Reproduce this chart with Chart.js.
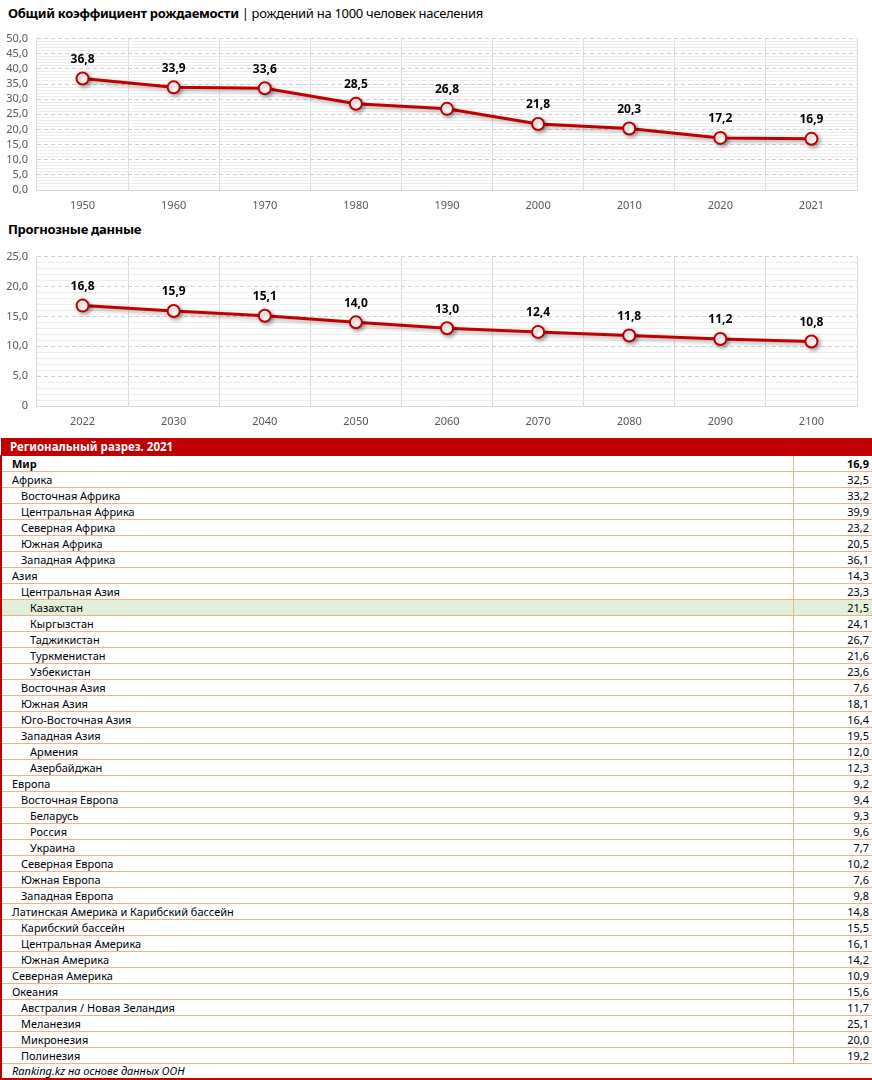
<!DOCTYPE html>
<html>
<head>
<meta charset="utf-8">
<script src="https://cdn.jsdelivr.net/npm/chart.js@4.4.0/dist/chart.umd.min.js"></script>
<style>
body{margin:0;width:872px;height:1080px;background:#fff;font-family:"Noto Sans",sans-serif;position:relative;overflow:hidden;color:#000}
.title{position:absolute;left:8px;font-size:13px;letter-spacing:-0.3px;white-space:nowrap}
.title b{font-weight:700}
.box{position:absolute;left:0;width:872px}
#tbl{position:absolute;left:0;top:438px;width:872px;border-collapse:collapse;font-size:11px;table-layout:fixed}
#tbl td{height:15px;padding:0;line-height:15px;border-bottom:1px solid #f4b183;white-space:nowrap}
#tbl td.v{text-align:right;padding-right:3px;border-left:1px solid #f4b183;border-right:2px solid #c00000}
#tbl td.n{border-left:2px solid #c00000}
#tbl tr.head td{background:#c00000;color:#fff;font-weight:700;height:17px;line-height:17px;border-bottom:1px solid #c00000;padding-left:9px;font-size:11.5px}
#tbl tr.kz td{background:#e2efda}
#tbl tr.foot td{font-style:italic;border:2px solid #c00000;border-top:1px solid #c00000;padding-left:10px;height:14px;line-height:14px}
</style>
</head>
<body>
<div class="title" style="top:4px"><b>Общий коэффициент рождаемости</b> | рождений на 1000 человек населения</div>
<div class="box" style="top:23px;height:193px"><canvas id="c1" width="872" height="193"></canvas></div>
<div class="title" style="top:220px"><b>Прогнозные данные</b></div>
<div class="box" style="top:241px;height:191px"><canvas id="c2" width="872" height="191"></canvas></div>
<table id="tbl"></table>
<script>
// исторические данные
const years1 = ['1950','1960','1970','1980','1990','2000','2010','2020','2021'];
const rate1 = [36.8, 33.9, 33.6, 28.5, 26.8, 21.8, 20.3, 17.2, 16.9];
// прогноз
const years2 = ['2022','2030','2040','2050','2060','2070','2080','2090','2100'];
const rate2 = [16.8, 15.9, 15.1, 14.0, 13.0, 12.4, 11.8, 11.2, 10.8];

// региональный разрез 2021
const regions = ['Мир','Африка','Восточная Африка','Центральная Африка','Северная Африка','Южная Африка','Западная Африка',
  'Азия','Центральная Азия','Казахстан','Кыргызстан','Таджикистан','Туркменистан','Узбекистан','Восточная Азия','Южная Азия',
  'Юго-Восточная Азия','Западная Азия','Армения','Азербайджан','Европа','Восточная Европа','Беларусь','Россия','Украина',
  'Северная Европа','Южная Европа','Западная Европа','Латинская Америка и Карибский бассейн','Карибский бассейн',
  'Центральная Америка','Южная Америка','Северная Америка','Океания','Австралия / Новая Зеландия','Меланезия','Микронезия','Полинезия'];
const regionValues = [16.9,32.5,33.2,39.9,23.2,20.5,36.1,14.3,23.3,21.5,24.1,26.7,21.6,23.6,7.6,18.1,16.4,19.5,12.0,12.3,
  9.2,9.4,9.3,9.6,7.7,10.2,7.6,9.8,14.8,15.5,16.1,14.2,10.9,15.6,11.7,25.1,20.0,19.2];
const regionLevel = [0,0,1,1,1,1,1,0,1,2,2,2,2,2,1,1,1,1,2,2,0,1,2,2,2,1,1,1,0,1,1,1,0,0,1,1,1,1];

const comma = v => v.toFixed(1).replace('.', ',');

// тень под линией как в excel
const shadowPlugin = {
  id: 'shadow',
  beforeDatasetsDraw(chart){
    const c = chart.ctx;
    c.save();
    c.shadowColor = 'rgba(0,0,0,0.35)';
    c.shadowBlur = 4;
    c.shadowOffsetX = 2;
    c.shadowOffsetY = 2;
  },
  afterDatasetsDraw(chart){
    chart.ctx.restore();
  }
};

const labelPlugin = {
  id: 'labels',
  afterDraw(chart){
    const c = chart.ctx;
    const meta = chart.getDatasetMeta(0);
    const data = chart.data.datasets[0].data;
    c.save();
    c.font = 'bold 12px "Noto Sans"';
    c.fillStyle = '#000';
    c.textAlign = 'center';
    c.textBaseline = 'middle';
    meta.data.forEach((p, i) => {
      c.fillText(comma(data[i]), p.x, p.y - 19);
    });
    c.restore();
  }
};

function makeChart(id, labels, values, max, zeroLabel){
  const ctx = document.getElementById(id).getContext('2d');
  return new Chart(ctx, {
    type: 'line',
    data: {
      labels: labels,
      datasets: [{
        data: values,
        borderColor: '#c00000',
        borderWidth: 3,
        pointRadius: 6,
        pointBorderWidth: 2,
        pointBackgroundColor: '#fff',
        pointBorderColor: '#c00000',
        tension: 0
      }]
    },
    options: {
      responsive: false,
      animation: false,
      layout: {padding: {top: 7, right: 15, left: 0, bottom: 0}},
      plugins: {legend: {display: false}, tooltip: {enabled: false}},
      scales: {
        x: {
          offset: true,
          grid: {offset: true, color: '#d9d9d9', drawTicks: false},
          border: {color: '#d9d9d9'},
          ticks: {color: '#595959', font: {size: 11, family: '"Noto Sans"'}, padding: 9},
          afterFit: s => { s.height = 26; }
        },
        yMinor: {
          position: 'left',
          min: 0, max: max,
          ticks: {display: false, stepSize: 1, autoSkip: false},
          grid: {drawTicks: false, color: c => (c.tick && c.tick.value % 5 === 0) ? 'rgba(0,0,0,0)' : '#ededed'},
          border: {display: false},
          afterFit: s => { s.width = 0; }
        },
        y: {
          position: 'left',
          min: 0, max: max,
          ticks: {
            stepSize: 5,
            autoSkip: false,
            color: '#595959',
            font: {size: 11, family: '"Noto Sans"'},
            padding: 9,
            callback: v => (v === 0 && zeroLabel) ? zeroLabel : comma(v)
          },
          grid: {drawTicks: false, color: '#cfcfcf'},
          border: {display: false, dash: [4, 3]},
          afterFit: s => { s.width = 37; }
        }
      }
    },
    plugins: [shadowPlugin, labelPlugin]
  });
}

makeChart('c1', years1, rate1, 50, null);
makeChart('c2', years2, rate2, 25, '0');

// таблица
const tbl = document.getElementById('tbl');
let html = '<colgroup><col style="width:792px"><col style="width:80px"></colgroup>';
html += '<tr class="head"><td colspan="2">Региональный разрез. 2021</td></tr>';
regions.forEach((r, i) => {
  const pad = 10 + regionLevel[i] * 9;
  const cls = r === 'Казахстан' ? ' class="kz"' : '';
  const w = i === 0 ? 'font-weight:700;' : '';
  html += '<tr' + cls + '><td class="n" style="padding-left:' + pad + 'px;' + w + '">' + r + '</td>' +
    '<td class="v" style="' + w + '">' + comma(regionValues[i]) + '</td></tr>';
});
html += '<tr class="foot"><td colspan="2">Ranking.kz на основе данных ООН</td></tr>';
tbl.innerHTML = html;
</script>
</body>
</html>
